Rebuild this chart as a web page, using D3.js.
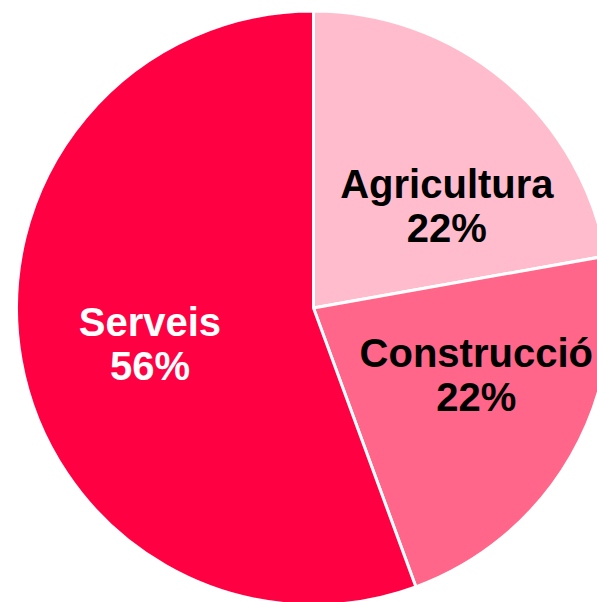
<!DOCTYPE html>
<html>
<head>
<meta charset="utf-8">
<script src="https://cdn.jsdelivr.net/npm/d3@7"></script>
<style>
  html, body { margin: 0; padding: 0; background: #fff; overflow: hidden; }
  svg { display: block; }
</style>
</head>
<body>
<svg id="chart" width="597" height="602"></svg>
<script>
// data
var sectors = ["Agricultura", "Construcció", "Serveis"];
var shares = [22.2, 22.2, 55.6];
var shareLabels = ["22%", "22%", "56%"];
var sliceColors = ["#ffbccd", "#ff6689", "#ff0042"];
var textColors = ["#000", "#000", "#fff"];

var width = 597, height = 602;
var cx = 313.5, cy = 308, radius = 297;

var svg = d3.select("#chart");
var g = svg.append("g").attr("transform", "translate(" + cx + "," + cy + ")");

var pie = d3.pie().sort(null).value(function(d){ return d; });
var arcs = pie(shares);

var arc = d3.arc().innerRadius(0).outerRadius(radius);

// slices
g.selectAll("path")
  .data(arcs)
  .enter()
  .append("path")
  .attr("d", arc)
  .attr("fill", function(d,i){ return sliceColors[i]; })
  .attr("stroke", "#fff")
  .attr("stroke-width", 3)
  .attr("stroke-linejoin", "miter");

// excel pushed the first label a bit away from its mid angle
var angleShift = [0.27, -0.08, -0.1];
var radShift = [-8, 10, 0];

var labels = g.selectAll("text.lbl")
  .data(arcs)
  .enter()
  .append("text")
  .attr("class", "lbl")
  .attr("transform", function(d,i){
    var a = (d.startAngle + d.endAngle)/2 + angleShift[i];
    var r = 170 + radShift[i];
    var x = Math.sin(a)*r, y = -Math.cos(a)*r;
    return "translate(" + x + "," + y + ")";
  })
  .attr("text-anchor", "middle")
  .attr("font-family", "Liberation Sans, Arial, sans-serif")
  .attr("font-weight", "bold")
  .attr("font-size", 40)
  .attr("fill", function(d,i){ return textColors[i]; });

labels.append("tspan")
  .attr("x", 0)
  .attr("y", -18)
  .text(function(d,i){ return sectors[i]; });

labels.append("tspan")
  .attr("x", 0)
  .attr("y", 26)
  .text(function(d,i){ return shareLabels[i]; });
</script>
</body>
</html>
